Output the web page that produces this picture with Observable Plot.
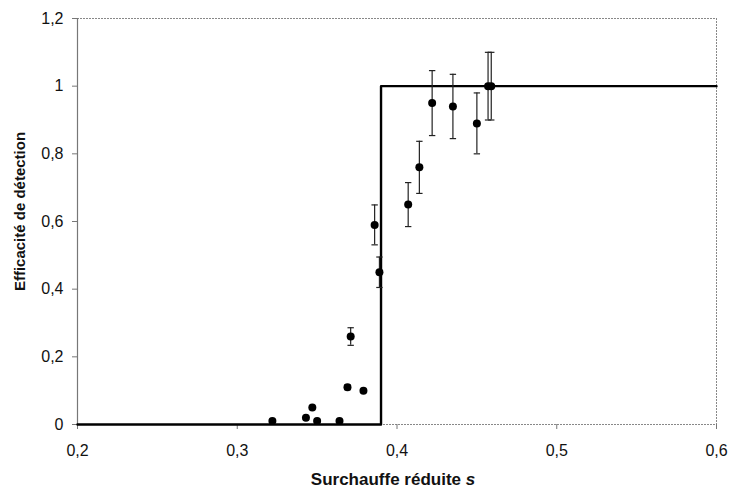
<!DOCTYPE html>
<html><head><meta charset="utf-8">
<script src="https://cdn.jsdelivr.net/npm/d3@7"></script>
<script src="https://cdn.jsdelivr.net/npm/@observablehq/plot@0.6"></script>
<style>
html,body{margin:0;padding:0;background:#fff;}
#chart{width:730px;height:491px;}
</style></head>
<body><div id="chart"></div>
<script>
// Data
const sValues = [0.322, 0.343, 0.347, 0.350, 0.364, 0.369, 0.371, 0.379, 0.386, 0.389, 0.407, 0.414, 0.422, 0.435, 0.450, 0.457, 0.459];
const effValues = [0.01, 0.02, 0.05, 0.01, 0.01, 0.11, 0.26, 0.10, 0.59, 0.45, 0.65, 0.76, 0.95, 0.94, 0.89, 1.00, 1.00];
const effErrors = [0, 0, 0, 0, 0, 0.007, 0.026, 0, 0.059, 0.045, 0.065, 0.077, 0.096, 0.095, 0.090, 0.100, 0.100];
const stepS = [0.2, 0.39, 0.6];
const stepEff = [0, 1, 1];
const xTicks = [0.2, 0.3, 0.4, 0.5, 0.6];
const yTicks = [0, 0.2, 0.4, 0.6, 0.8, 1, 1.2];
const xTitle = "Surchauffe réduite s";
const yTitle = "Efficacité de détection";

const points = sValues.map((s, i) => ({s, e: effValues[i], err: effErrors[i]}));
const bars = points.filter(d => d.err > 0);
const step = stepS.map((s, i) => ({s, e: stepEff[i]}));
const fmt = d => String(+d.toFixed(1)).replace(".", ",");

const capSymbol = {
  draw(ctx, size) { const w = Math.sqrt(size) / 2; ctx.moveTo(-w, 0); ctx.lineTo(w, 0); }
};

const chart = Plot.plot({
  width: 730, height: 491,
  marginLeft: 77, marginRight: 14, marginTop: 18, marginBottom: 67,
  style: {fontFamily: "'Liberation Sans', Arial, sans-serif", fontSize: "16px", color: "#111", background: "#fff"},
  x: {domain: [0.2, 0.6]},
  y: {domain: [0, 1.2]},
  marks: [
    // frame
    Plot.ruleY([1.2], {stroke: "#888", strokeDasharray: "2,1", strokeWidth: 1}),
    Plot.ruleX([0.6], {stroke: "#888", strokeDasharray: "2,1", strokeWidth: 1}),
    Plot.ruleY([0], {stroke: "#888", strokeDasharray: "2,1", strokeWidth: 1.2}),
    Plot.ruleX([0.2], {stroke: "#777", strokeWidth: 1.2}),
    Plot.axisX({ticks: xTicks, tickFormat: fmt, tickSize: 5, tickPadding: 15, stroke: "#777", fontSize: 16, label: null}),
    Plot.axisY({ticks: yTicks, tickFormat: fmt, tickSize: 5, tickPadding: 9, stroke: "#777", fontSize: 16, label: null}),
    // step
    Plot.line(step, {x: "s", y: "e", curve: "step-after", stroke: "#000", strokeWidth: 2.4}),
    // error bars
    Plot.ruleX(bars, {x: "s", y1: d => d.e - d.err, y2: d => d.e + d.err, stroke: "#222", strokeWidth: 1.2}),
    Plot.dot(bars, {x: "s", y: d => d.e - d.err, symbol: capSymbol, r: 3.6, stroke: "#222", strokeWidth: 1.2, fill: "none"}),
    Plot.dot(bars, {x: "s", y: d => d.e + d.err, symbol: capSymbol, r: 3.6, stroke: "#222", strokeWidth: 1.2, fill: "none"}),
    // points
    Plot.dot(points, {x: "s", y: "e", r: 4, fill: "#000", stroke: "none"}),
    // titles
    Plot.text([xTitle], {frameAnchor: "bottom", dy: 60, dx: -4, fontWeight: "bold", fontSize: 17, fill: "#111", className: "xtitle"}),
    Plot.text([yTitle], {frameAnchor: "left", textAnchor: "middle", rotate: -90, dx: -57, dy: -10, fontWeight: "bold", fontSize: 15, fill: "#111"})
  ]
});
document.getElementById("chart").appendChild(chart);

// italic "s" in the x title
const t = chart.querySelector(".xtitle text");
if (t) {
  const txt = t.textContent;
  const base = txt.slice(0, txt.length - 1);
  t.textContent = "";
  const a = document.createElementNS("http://www.w3.org/2000/svg", "tspan");
  a.textContent = base;
  const b = document.createElementNS("http://www.w3.org/2000/svg", "tspan");
  b.textContent = txt.slice(-1);
  b.setAttribute("font-style", "italic");
  t.appendChild(a); t.appendChild(b);
}
</script>
</body></html>
